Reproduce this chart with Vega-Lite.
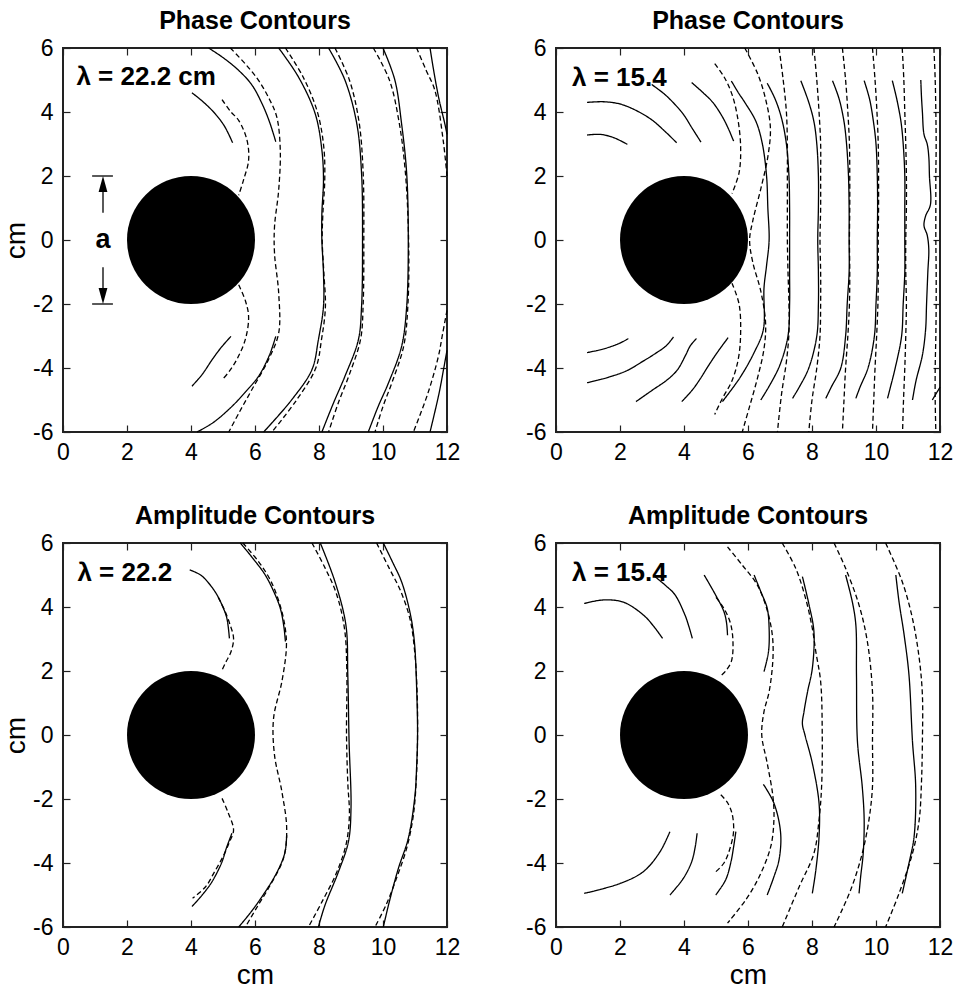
{
"$schema":"https://vega.github.io/schema/vega-lite/v6.json",
"background":"white",
"padding":{"left":1,"top":8,"right":10,"bottom":2},
"config":{
 "font":"Liberation Sans",
 "view":{"stroke":"#222","strokeWidth":2},
 "axis":{"grid":false,"domain":false,"tickSize":-7,"tickColor":"#222","tickWidth":1.2,"labelFontSize":23,"labelColor":"black","labelFont":"Liberation Sans","titleFont":"Liberation Sans","titleFontSize":28,"titleFontWeight":"normal","titleColor":"black","labelPadding":17,"labelFlush":false,"labelOverlap":false,"titlePadding":2,"labelExpr":"'' + datum.value"},
 "axisBottom":{"labelPadding":16,"titlePadding":2},
 "title":{"font":"Liberation Sans","fontSize":25,"fontWeight":"bold","anchor":"middle","frame":"group","baseline":"alphabetic","offset":3,"color":"black"},
 "line":{"interpolate":"catmull-rom","clip":true,"color":"black","strokeWidth":1.3}
},
"datasets":{
"circle":[{"x":4,"y":0}],
"labels":[{"p":1,"t":"λ = 22.2 cm","x":0.42,"y":4.85},{"p":2,"t":"λ = 15.4","x":0.5,"y":4.81},{"p":3,"t":"λ = 22.2","x":0.45,"y":4.81},{"p":4,"t":"λ = 15.4","x":0.5,"y":4.81}],
"bars":[{"x":0.91,"x2":1.56,"y":2,"y2":2},{"x":0.91,"x2":1.56,"y":-2,"y2":-2},{"x":1.25,"x2":1.25,"y":0.85,"y2":1.8},{"x":1.25,"x2":1.25,"y":-0.85,"y2":-1.8}],
"heads":[{"x":1.25,"y":1.75,"dir":"up"},{"x":1.25,"y":-1.75,"dir":"down"}],
"lines":[
{"p":1,"c":"1a","d":0,"o":0,"x":4.03,"y":4.6},{"p":1,"c":"1a","d":0,"o":1,"x":4.4,"y":4.3},{"p":1,"c":"1a","d":0,"o":2,"x":4.75,"y":3.95},{"p":1,"c":"1a","d":0,"o":3,"x":5.05,"y":3.55},{"p":1,"c":"1a","d":0,"o":4,"x":5.3,"y":3.04},
{"p":1,"c":"1b","d":0,"o":0,"x":4.03,"y":-4.57},{"p":1,"c":"1b","d":0,"o":1,"x":4.35,"y":-4.2},{"p":1,"c":"1b","d":0,"o":2,"x":4.66,"y":-3.74},{"p":1,"c":"1b","d":0,"o":3,"x":4.95,"y":-3.35},{"p":1,"c":"1b","d":0,"o":4,"x":5.25,"y":-3.01},
{"p":1,"c":"1c","d":0,"o":0,"x":4.55,"y":6},{"p":1,"c":"1c","d":0,"o":1,"x":5.0,"y":5.7},{"p":1,"c":"1c","d":0,"o":2,"x":5.49,"y":5.3},{"p":1,"c":"1c","d":0,"o":3,"x":5.9,"y":4.85},{"p":1,"c":"1c","d":0,"o":4,"x":6.22,"y":4.26},{"p":1,"c":"1c","d":0,"o":5,"x":6.45,"y":3.7},{"p":1,"c":"1c","d":0,"o":6,"x":6.65,"y":3.07},
{"p":1,"c":"1d","d":0,"o":0,"x":6.65,"y":-3.01},{"p":1,"c":"1d","d":0,"o":1,"x":6.45,"y":-3.6},{"p":1,"c":"1d","d":0,"o":2,"x":6.11,"y":-4.26},{"p":1,"c":"1d","d":0,"o":3,"x":5.7,"y":-4.75},{"p":1,"c":"1d","d":0,"o":4,"x":5.28,"y":-5.2},{"p":1,"c":"1d","d":0,"o":5,"x":4.7,"y":-5.7},{"p":1,"c":"1d","d":0,"o":6,"x":4.19,"y":-6},
{"p":1,"c":"1e","d":1,"o":0,"x":4.97,"y":4.39},{"p":1,"c":"1e","d":1,"o":1,"x":5.25,"y":4.0},{"p":1,"c":"1e","d":1,"o":2,"x":5.49,"y":3.74},{"p":1,"c":"1e","d":1,"o":3,"x":5.75,"y":3.12},{"p":1,"c":"1e","d":1,"o":4,"x":5.8,"y":2.49},{"p":1,"c":"1e","d":1,"o":5,"x":5.64,"y":1.87},{"p":1,"c":"1e","d":1,"o":6,"x":5.49,"y":1.4},
{"p":1,"c":"1f","d":1,"o":0,"x":5.49,"y":-1.4},{"p":1,"c":"1f","d":1,"o":1,"x":5.7,"y":-1.9},{"p":1,"c":"1f","d":1,"o":2,"x":5.8,"y":-2.4},{"p":1,"c":"1f","d":1,"o":3,"x":5.7,"y":-3.1},{"p":1,"c":"1f","d":1,"o":4,"x":5.45,"y":-3.7},{"p":1,"c":"1f","d":1,"o":5,"x":5.2,"y":-4.1},{"p":1,"c":"1f","d":1,"o":6,"x":4.97,"y":-4.37},
{"p":1,"c":"1g","d":1,"o":0,"x":5.23,"y":6},{"p":1,"c":"1g","d":1,"o":1,"x":5.7,"y":5.5},{"p":1,"c":"1g","d":1,"o":2,"x":6.11,"y":4.99},{"p":1,"c":"1g","d":1,"o":3,"x":6.45,"y":4.4},{"p":1,"c":"1g","d":1,"o":4,"x":6.68,"y":3.85},{"p":1,"c":"1g","d":1,"o":5,"x":6.79,"y":2.81},{"p":1,"c":"1g","d":1,"o":6,"x":6.74,"y":1.56},{"p":1,"c":"1g","d":1,"o":7,"x":6.61,"y":0.42},{"p":1,"c":"1g","d":1,"o":8,"x":6.61,"y":-0.42},{"p":1,"c":"1g","d":1,"o":9,"x":6.74,"y":-1.66},{"p":1,"c":"1g","d":1,"o":10,"x":6.74,"y":-2.91},{"p":1,"c":"1g","d":1,"o":11,"x":6.42,"y":-3.74},{"p":1,"c":"1g","d":1,"o":12,"x":5.9,"y":-4.68},{"p":1,"c":"1g","d":1,"o":13,"x":5.5,"y":-5.4},{"p":1,"c":"1g","d":1,"o":14,"x":5.18,"y":-6},
{"p":1,"c":"1h","d":0,"o":0,"x":6.74,"y":6},{"p":1,"c":"1h","d":0,"o":1,"x":7.36,"y":5.09},{"p":1,"c":"1h","d":0,"o":2,"x":7.88,"y":3.95},{"p":1,"c":"1h","d":0,"o":3,"x":8.09,"y":2.81},{"p":1,"c":"1h","d":0,"o":4,"x":8.14,"y":1.87},{"p":1,"c":"1h","d":0,"o":5,"x":8.09,"y":0.83},{"p":1,"c":"1h","d":0,"o":6,"x":8.09,"y":0},{"p":1,"c":"1h","d":0,"o":7,"x":8.14,"y":-1.04},{"p":1,"c":"1h","d":0,"o":8,"x":8.14,"y":-2.08},{"p":1,"c":"1h","d":0,"o":9,"x":7.98,"y":-3.12},{"p":1,"c":"1h","d":0,"o":10,"x":7.78,"y":-4.05},{"p":1,"c":"1h","d":0,"o":11,"x":7.15,"y":-4.99},{"p":1,"c":"1h","d":0,"o":12,"x":6.27,"y":-6},
{"p":1,"c":"1i","d":1,"o":0,"x":6.95,"y":6},{"p":1,"c":"1i","d":1,"o":1,"x":7.5,"y":5.1},{"p":1,"c":"1i","d":1,"o":2,"x":7.95,"y":4.0},{"p":1,"c":"1i","d":1,"o":3,"x":8.15,"y":2.9},{"p":1,"c":"1i","d":1,"o":4,"x":8.18,"y":1.9},{"p":1,"c":"1i","d":1,"o":5,"x":8.12,"y":0.8},{"p":1,"c":"1i","d":1,"o":6,"x":8.1,"y":0},{"p":1,"c":"1i","d":1,"o":7,"x":8.15,"y":-1.0},{"p":1,"c":"1i","d":1,"o":8,"x":8.2,"y":-2.1},{"p":1,"c":"1i","d":1,"o":9,"x":8.08,"y":-3.1},{"p":1,"c":"1i","d":1,"o":10,"x":7.9,"y":-4.0},{"p":1,"c":"1i","d":1,"o":11,"x":7.3,"y":-5.0},{"p":1,"c":"1i","d":1,"o":12,"x":6.53,"y":-6},
{"p":1,"c":"1j","d":0,"o":0,"x":8.3,"y":6},{"p":1,"c":"1j","d":0,"o":1,"x":8.81,"y":5.0},{"p":1,"c":"1j","d":0,"o":2,"x":9.18,"y":3.64},{"p":1,"c":"1j","d":0,"o":3,"x":9.33,"y":2.08},{"p":1,"c":"1j","d":0,"o":4,"x":9.36,"y":0},{"p":1,"c":"1j","d":0,"o":5,"x":9.33,"y":-2.08},{"p":1,"c":"1j","d":0,"o":6,"x":9.23,"y":-3.12},{"p":1,"c":"1j","d":0,"o":7,"x":8.81,"y":-4.26},{"p":1,"c":"1j","d":0,"o":8,"x":8.45,"y":-5.1},{"p":1,"c":"1j","d":0,"o":9,"x":8.09,"y":-6},
{"p":1,"c":"1k","d":1,"o":0,"x":8.5,"y":6},{"p":1,"c":"1k","d":1,"o":1,"x":8.95,"y":5.0},{"p":1,"c":"1k","d":1,"o":2,"x":9.25,"y":3.7},{"p":1,"c":"1k","d":1,"o":3,"x":9.38,"y":2.1},{"p":1,"c":"1k","d":1,"o":4,"x":9.4,"y":0},{"p":1,"c":"1k","d":1,"o":5,"x":9.38,"y":-2.0},{"p":1,"c":"1k","d":1,"o":6,"x":9.3,"y":-3.1},{"p":1,"c":"1k","d":1,"o":7,"x":8.95,"y":-4.2},{"p":1,"c":"1k","d":1,"o":8,"x":8.6,"y":-5.1},{"p":1,"c":"1k","d":1,"o":9,"x":8.3,"y":-6},
{"p":1,"c":"1l","d":0,"o":0,"x":10.0,"y":6},{"p":1,"c":"1l","d":0,"o":1,"x":10.37,"y":5.0},{"p":1,"c":"1l","d":0,"o":2,"x":10.58,"y":3.64},{"p":1,"c":"1l","d":0,"o":3,"x":10.74,"y":2.08},{"p":1,"c":"1l","d":0,"o":4,"x":10.79,"y":0},{"p":1,"c":"1l","d":0,"o":5,"x":10.74,"y":-2.08},{"p":1,"c":"1l","d":0,"o":6,"x":10.58,"y":-3.33},{"p":1,"c":"1l","d":0,"o":7,"x":10.17,"y":-4.47},{"p":1,"c":"1l","d":0,"o":8,"x":9.85,"y":-5.2},{"p":1,"c":"1l","d":0,"o":9,"x":9.54,"y":-6},
{"p":1,"c":"1m","d":1,"o":0,"x":9.7,"y":6},{"p":1,"c":"1m","d":1,"o":1,"x":10.2,"y":5.0},{"p":1,"c":"1m","d":1,"o":2,"x":10.5,"y":3.7},{"p":1,"c":"1m","d":1,"o":3,"x":10.7,"y":2.1},{"p":1,"c":"1m","d":1,"o":4,"x":10.8,"y":0},{"p":1,"c":"1m","d":1,"o":5,"x":10.78,"y":-2.0},{"p":1,"c":"1m","d":1,"o":6,"x":10.65,"y":-3.3},{"p":1,"c":"1m","d":1,"o":7,"x":10.3,"y":-4.4},{"p":1,"c":"1m","d":1,"o":8,"x":10.0,"y":-5.2},{"p":1,"c":"1m","d":1,"o":9,"x":9.75,"y":-6},
{"p":1,"c":"1n","d":0,"o":0,"x":11.47,"y":6},{"p":1,"c":"1n","d":0,"o":1,"x":11.6,"y":5.2},{"p":1,"c":"1n","d":0,"o":2,"x":11.75,"y":4.4},{"p":1,"c":"1n","d":0,"o":3,"x":11.93,"y":3.64},{"p":1,"c":"1n","d":0,"o":4,"x":12,"y":3.3},
{"p":1,"c":"1o","d":0,"o":0,"x":12,"y":-3.45},{"p":1,"c":"1o","d":0,"o":1,"x":11.9,"y":-4.0},{"p":1,"c":"1o","d":0,"o":2,"x":11.75,"y":-4.8},{"p":1,"c":"1o","d":0,"o":3,"x":11.47,"y":-6},
{"p":1,"c":"1p","d":1,"o":0,"x":11.05,"y":6},{"p":1,"c":"1p","d":1,"o":1,"x":11.35,"y":5.3},{"p":1,"c":"1p","d":1,"o":2,"x":11.62,"y":4.68},{"p":1,"c":"1p","d":1,"o":3,"x":11.88,"y":3.12},{"p":1,"c":"1p","d":1,"o":4,"x":12,"y":2.0},
{"p":1,"c":"1q","d":1,"o":0,"x":12,"y":-2.2},{"p":1,"c":"1q","d":1,"o":1,"x":11.85,"y":-3.0},{"p":1,"c":"1q","d":1,"o":2,"x":11.73,"y":-3.64},{"p":1,"c":"1q","d":1,"o":3,"x":11.4,"y":-4.8},{"p":1,"c":"1q","d":1,"o":4,"x":10.95,"y":-6},

{"p":2,"c":"2a","d":0,"o":0,"x":0.97,"y":4.3},{"p":2,"c":"2a","d":0,"o":1,"x":1.5,"y":4.32},{"p":2,"c":"2a","d":0,"o":2,"x":2.0,"y":4.25},{"p":2,"c":"2a","d":0,"o":3,"x":2.5,"y":4.05},{"p":2,"c":"2a","d":0,"o":4,"x":3.0,"y":3.75},{"p":2,"c":"2a","d":0,"o":5,"x":3.4,"y":3.4},{"p":2,"c":"2a","d":0,"o":6,"x":3.77,"y":3.04},
{"p":2,"c":"2b","d":0,"o":0,"x":0.97,"y":3.28},{"p":2,"c":"2b","d":0,"o":1,"x":1.4,"y":3.3},{"p":2,"c":"2b","d":0,"o":2,"x":1.8,"y":3.2},{"p":2,"c":"2b","d":0,"o":3,"x":2.23,"y":2.99},
{"p":2,"c":"2c","d":0,"o":0,"x":2.99,"y":4.86},{"p":2,"c":"2c","d":0,"o":1,"x":3.4,"y":4.55},{"p":2,"c":"2c","d":0,"o":2,"x":3.75,"y":4.2},{"p":2,"c":"2c","d":0,"o":3,"x":4.0,"y":3.9},{"p":2,"c":"2c","d":0,"o":4,"x":4.25,"y":3.5},{"p":2,"c":"2c","d":0,"o":5,"x":4.53,"y":3.06},
{"p":2,"c":"2d","d":0,"o":0,"x":4.24,"y":4.92},{"p":2,"c":"2d","d":0,"o":1,"x":4.6,"y":4.6},{"p":2,"c":"2d","d":0,"o":2,"x":4.9,"y":4.3},{"p":2,"c":"2d","d":0,"o":3,"x":5.2,"y":3.85},{"p":2,"c":"2d","d":0,"o":4,"x":5.4,"y":3.45},{"p":2,"c":"2d","d":0,"o":5,"x":5.55,"y":3.09},
{"p":2,"c":"2e","d":0,"o":0,"x":0.97,"y":-3.52},{"p":2,"c":"2e","d":0,"o":1,"x":1.5,"y":-3.4},{"p":2,"c":"2e","d":0,"o":2,"x":2.0,"y":-3.22},{"p":2,"c":"2e","d":0,"o":3,"x":2.26,"y":-3.08},
{"p":2,"c":"2f","d":0,"o":0,"x":0.97,"y":-4.46},{"p":2,"c":"2f","d":0,"o":1,"x":1.6,"y":-4.3},{"p":2,"c":"2f","d":0,"o":2,"x":2.2,"y":-4.09},{"p":2,"c":"2f","d":0,"o":3,"x":2.7,"y":-3.8},{"p":2,"c":"2f","d":0,"o":4,"x":3.1,"y":-3.55},{"p":2,"c":"2f","d":0,"o":5,"x":3.45,"y":-3.3},{"p":2,"c":"2f","d":0,"o":6,"x":3.67,"y":-3.03},
{"p":2,"c":"2g","d":0,"o":0,"x":2.5,"y":-5.05},{"p":2,"c":"2g","d":0,"o":1,"x":3.0,"y":-4.7},{"p":2,"c":"2g","d":0,"o":2,"x":3.5,"y":-4.35},{"p":2,"c":"2g","d":0,"o":3,"x":3.8,"y":-4.05},{"p":2,"c":"2g","d":0,"o":4,"x":4.05,"y":-3.6},{"p":2,"c":"2g","d":0,"o":5,"x":4.2,"y":-3.3},{"p":2,"c":"2g","d":0,"o":6,"x":4.39,"y":-3.08},
{"p":2,"c":"2h","d":0,"o":0,"x":3.93,"y":-5.05},{"p":2,"c":"2h","d":0,"o":1,"x":4.25,"y":-4.7},{"p":2,"c":"2h","d":0,"o":2,"x":4.5,"y":-4.35},{"p":2,"c":"2h","d":0,"o":3,"x":4.75,"y":-3.95},{"p":2,"c":"2h","d":0,"o":4,"x":5.05,"y":-3.5},{"p":2,"c":"2h","d":0,"o":5,"x":5.38,"y":-3.05},
{"p":2,"c":"2i","d":1,"o":0,"x":4.96,"y":5.51},{"p":2,"c":"2i","d":1,"o":1,"x":5.25,"y":5.1},{"p":2,"c":"2i","d":1,"o":2,"x":5.5,"y":4.55},{"p":2,"c":"2i","d":1,"o":3,"x":5.68,"y":3.8},{"p":2,"c":"2i","d":1,"o":4,"x":5.77,"y":2.9},{"p":2,"c":"2i","d":1,"o":5,"x":5.72,"y":2.1},{"p":2,"c":"2i","d":1,"o":6,"x":5.5,"y":1.45},
{"p":2,"c":"2j","d":1,"o":0,"x":5.5,"y":-1.35},{"p":2,"c":"2j","d":1,"o":1,"x":5.72,"y":-2.0},{"p":2,"c":"2j","d":1,"o":2,"x":5.77,"y":-2.9},{"p":2,"c":"2j","d":1,"o":3,"x":5.7,"y":-3.7},{"p":2,"c":"2j","d":1,"o":4,"x":5.5,"y":-4.4},{"p":2,"c":"2j","d":1,"o":5,"x":5.2,"y":-4.95},{"p":2,"c":"2j","d":1,"o":6,"x":4.96,"y":-5.45},
{"p":2,"c":"2k","d":0,"o":0,"x":5.48,"y":4.97},{"p":2,"c":"2k","d":0,"o":1,"x":5.7,"y":4.6},{"p":2,"c":"2k","d":0,"o":2,"x":5.9,"y":4.3},{"p":2,"c":"2k","d":0,"o":3,"x":6.25,"y":3.7},{"p":2,"c":"2k","d":0,"o":4,"x":6.45,"y":3.0},{"p":2,"c":"2k","d":0,"o":5,"x":6.58,"y":2.0},{"p":2,"c":"2k","d":0,"o":6,"x":6.62,"y":1.0},{"p":2,"c":"2k","d":0,"o":7,"x":6.66,"y":0},{"p":2,"c":"2k","d":0,"o":8,"x":6.58,"y":-0.8},{"p":2,"c":"2k","d":0,"o":9,"x":6.5,"y":-1.5},{"p":2,"c":"2k","d":0,"o":10,"x":6.48,"y":-2.8},{"p":2,"c":"2k","d":0,"o":11,"x":6.2,"y":-3.5},{"p":2,"c":"2k","d":0,"o":12,"x":5.75,"y":-4.3},{"p":2,"c":"2k","d":0,"o":13,"x":5.2,"y":-5.05},
{"p":2,"c":"2l","d":1,"o":0,"x":5.9,"y":6},{"p":2,"c":"2l","d":1,"o":1,"x":6.3,"y":5.2},{"p":2,"c":"2l","d":1,"o":2,"x":6.55,"y":4.4},{"p":2,"c":"2l","d":1,"o":3,"x":6.7,"y":3.5},{"p":2,"c":"2l","d":1,"o":4,"x":6.62,"y":2.6},{"p":2,"c":"2l","d":1,"o":5,"x":6.4,"y":1.6},{"p":2,"c":"2l","d":1,"o":6,"x":6.15,"y":0.6},{"p":2,"c":"2l","d":1,"o":7,"x":6.05,"y":0},{"p":2,"c":"2l","d":1,"o":8,"x":6.15,"y":-0.7},{"p":2,"c":"2l","d":1,"o":9,"x":6.4,"y":-1.6},{"p":2,"c":"2l","d":1,"o":10,"x":6.55,"y":-2.6},{"p":2,"c":"2l","d":1,"o":11,"x":6.5,"y":-3.4},{"p":2,"c":"2l","d":1,"o":12,"x":6.3,"y":-4.3},{"p":2,"c":"2l","d":1,"o":13,"x":6.05,"y":-5.2},{"p":2,"c":"2l","d":1,"o":14,"x":5.82,"y":-6},
{"p":2,"c":"2m","d":0,"o":0,"x":6.6,"y":4.9},{"p":2,"c":"2m","d":0,"o":1,"x":6.85,"y":4.4},{"p":2,"c":"2m","d":0,"o":2,"x":7.05,"y":3.8},{"p":2,"c":"2m","d":0,"o":3,"x":7.2,"y":3.0},{"p":2,"c":"2m","d":0,"o":4,"x":7.28,"y":2.0},{"p":2,"c":"2m","d":0,"o":5,"x":7.3,"y":1.0},{"p":2,"c":"2m","d":0,"o":6,"x":7.3,"y":0},{"p":2,"c":"2m","d":0,"o":7,"x":7.3,"y":-1.0},{"p":2,"c":"2m","d":0,"o":8,"x":7.3,"y":-2.0},{"p":2,"c":"2m","d":0,"o":9,"x":7.25,"y":-3.0},{"p":2,"c":"2m","d":0,"o":10,"x":7.0,"y":-3.9},{"p":2,"c":"2m","d":0,"o":11,"x":6.7,"y":-4.5},{"p":2,"c":"2m","d":0,"o":12,"x":6.4,"y":-5.0},
{"p":2,"c":"2n","d":1,"o":0,"x":6.97,"y":6},{"p":2,"c":"2n","d":1,"o":1,"x":7.1,"y":5.0},{"p":2,"c":"2n","d":1,"o":2,"x":7.2,"y":4.0},{"p":2,"c":"2n","d":1,"o":3,"x":7.23,"y":3.0},{"p":2,"c":"2n","d":1,"o":4,"x":7.23,"y":2.0},{"p":2,"c":"2n","d":1,"o":5,"x":7.23,"y":1.0},{"p":2,"c":"2n","d":1,"o":6,"x":7.23,"y":0},{"p":2,"c":"2n","d":1,"o":7,"x":7.25,"y":-1.0},{"p":2,"c":"2n","d":1,"o":8,"x":7.28,"y":-2.0},{"p":2,"c":"2n","d":1,"o":9,"x":7.28,"y":-2.9},{"p":2,"c":"2n","d":1,"o":10,"x":7.2,"y":-3.8},{"p":2,"c":"2n","d":1,"o":11,"x":7.05,"y":-4.8},{"p":2,"c":"2n","d":1,"o":12,"x":6.92,"y":-6},
{"p":2,"c":"2o","d":0,"o":0,"x":7.65,"y":4.98},{"p":2,"c":"2o","d":0,"o":1,"x":7.9,"y":4.3},{"p":2,"c":"2o","d":0,"o":2,"x":8.06,"y":3.7},{"p":2,"c":"2o","d":0,"o":3,"x":8.15,"y":3.0},{"p":2,"c":"2o","d":0,"o":4,"x":8.2,"y":2.0},{"p":2,"c":"2o","d":0,"o":5,"x":8.2,"y":1.0},{"p":2,"c":"2o","d":0,"o":6,"x":8.18,"y":0},{"p":2,"c":"2o","d":0,"o":7,"x":8.2,"y":-1.0},{"p":2,"c":"2o","d":0,"o":8,"x":8.2,"y":-2.0},{"p":2,"c":"2o","d":0,"o":9,"x":8.15,"y":-3.0},{"p":2,"c":"2o","d":0,"o":10,"x":7.9,"y":-4.0},{"p":2,"c":"2o","d":0,"o":11,"x":7.6,"y":-4.6},{"p":2,"c":"2o","d":0,"o":12,"x":7.39,"y":-4.95},
{"p":2,"c":"2p","d":1,"o":0,"x":8.06,"y":6},{"p":2,"c":"2p","d":1,"o":1,"x":8.15,"y":5.0},{"p":2,"c":"2p","d":1,"o":2,"x":8.22,"y":4.0},{"p":2,"c":"2p","d":1,"o":3,"x":8.27,"y":3.0},{"p":2,"c":"2p","d":1,"o":4,"x":8.27,"y":2.0},{"p":2,"c":"2p","d":1,"o":5,"x":8.27,"y":1.0},{"p":2,"c":"2p","d":1,"o":6,"x":8.25,"y":0},{"p":2,"c":"2p","d":1,"o":7,"x":8.27,"y":-1.0},{"p":2,"c":"2p","d":1,"o":8,"x":8.27,"y":-2.0},{"p":2,"c":"2p","d":1,"o":9,"x":8.25,"y":-3.0},{"p":2,"c":"2p","d":1,"o":10,"x":8.15,"y":-4.0},{"p":2,"c":"2p","d":1,"o":11,"x":8.0,"y":-5.0},{"p":2,"c":"2p","d":1,"o":12,"x":7.9,"y":-6},
{"p":2,"c":"2q","d":0,"o":0,"x":8.64,"y":4.98},{"p":2,"c":"2q","d":0,"o":1,"x":8.85,"y":4.4},{"p":2,"c":"2q","d":0,"o":2,"x":9.0,"y":3.7},{"p":2,"c":"2q","d":0,"o":3,"x":9.08,"y":3.0},{"p":2,"c":"2q","d":0,"o":4,"x":9.14,"y":2.0},{"p":2,"c":"2q","d":0,"o":5,"x":9.16,"y":1.0},{"p":2,"c":"2q","d":0,"o":6,"x":9.16,"y":0},{"p":2,"c":"2q","d":0,"o":7,"x":9.16,"y":-1.0},{"p":2,"c":"2q","d":0,"o":8,"x":9.1,"y":-2.0},{"p":2,"c":"2q","d":0,"o":9,"x":9.05,"y":-3.0},{"p":2,"c":"2q","d":0,"o":10,"x":8.9,"y":-4.0},{"p":2,"c":"2q","d":0,"o":11,"x":8.6,"y":-4.6},{"p":2,"c":"2q","d":0,"o":12,"x":8.43,"y":-4.95},
{"p":2,"c":"2r","d":1,"o":0,"x":8.95,"y":6},{"p":2,"c":"2r","d":1,"o":1,"x":9.05,"y":5.0},{"p":2,"c":"2r","d":1,"o":2,"x":9.12,"y":4.0},{"p":2,"c":"2r","d":1,"o":3,"x":9.17,"y":3.0},{"p":2,"c":"2r","d":1,"o":4,"x":9.18,"y":2.0},{"p":2,"c":"2r","d":1,"o":5,"x":9.18,"y":1.0},{"p":2,"c":"2r","d":1,"o":6,"x":9.17,"y":0},{"p":2,"c":"2r","d":1,"o":7,"x":9.18,"y":-1.0},{"p":2,"c":"2r","d":1,"o":8,"x":9.17,"y":-2.0},{"p":2,"c":"2r","d":1,"o":9,"x":9.12,"y":-3.0},{"p":2,"c":"2r","d":1,"o":10,"x":9.05,"y":-4.0},{"p":2,"c":"2r","d":1,"o":11,"x":9.0,"y":-5.0},{"p":2,"c":"2r","d":1,"o":12,"x":8.95,"y":-6},
{"p":2,"c":"2s","d":0,"o":0,"x":9.63,"y":4.98},{"p":2,"c":"2s","d":0,"o":1,"x":9.8,"y":4.4},{"p":2,"c":"2s","d":0,"o":2,"x":9.92,"y":3.7},{"p":2,"c":"2s","d":0,"o":3,"x":10.0,"y":3.0},{"p":2,"c":"2s","d":0,"o":4,"x":10.04,"y":2.0},{"p":2,"c":"2s","d":0,"o":5,"x":10.05,"y":1.0},{"p":2,"c":"2s","d":0,"o":6,"x":10.04,"y":0},{"p":2,"c":"2s","d":0,"o":7,"x":10.04,"y":-1.0},{"p":2,"c":"2s","d":0,"o":8,"x":10.0,"y":-2.0},{"p":2,"c":"2s","d":0,"o":9,"x":9.95,"y":-3.0},{"p":2,"c":"2s","d":0,"o":10,"x":9.75,"y":-4.0},{"p":2,"c":"2s","d":0,"o":11,"x":9.5,"y":-4.6},{"p":2,"c":"2s","d":0,"o":12,"x":9.37,"y":-4.95},
{"p":2,"c":"2t","d":1,"o":0,"x":9.89,"y":6},{"p":2,"c":"2t","d":1,"o":1,"x":9.97,"y":5.0},{"p":2,"c":"2t","d":1,"o":2,"x":10.03,"y":4.0},{"p":2,"c":"2t","d":1,"o":3,"x":10.07,"y":3.0},{"p":2,"c":"2t","d":1,"o":4,"x":10.08,"y":2.0},{"p":2,"c":"2t","d":1,"o":5,"x":10.08,"y":1.0},{"p":2,"c":"2t","d":1,"o":6,"x":10.07,"y":0},{"p":2,"c":"2t","d":1,"o":7,"x":10.07,"y":-1.0},{"p":2,"c":"2t","d":1,"o":8,"x":10.06,"y":-2.0},{"p":2,"c":"2t","d":1,"o":9,"x":10.02,"y":-3.0},{"p":2,"c":"2t","d":1,"o":10,"x":9.97,"y":-4.0},{"p":2,"c":"2t","d":1,"o":11,"x":9.93,"y":-5.0},{"p":2,"c":"2t","d":1,"o":12,"x":9.89,"y":-6},
{"p":2,"c":"2u","d":0,"o":0,"x":10.51,"y":4.98},{"p":2,"c":"2u","d":0,"o":1,"x":10.65,"y":4.4},{"p":2,"c":"2u","d":0,"o":2,"x":10.78,"y":3.7},{"p":2,"c":"2u","d":0,"o":3,"x":10.85,"y":3.0},{"p":2,"c":"2u","d":0,"o":4,"x":10.9,"y":2.0},{"p":2,"c":"2u","d":0,"o":5,"x":10.9,"y":1.0},{"p":2,"c":"2u","d":0,"o":6,"x":10.9,"y":0},{"p":2,"c":"2u","d":0,"o":7,"x":10.9,"y":-1.0},{"p":2,"c":"2u","d":0,"o":8,"x":10.85,"y":-2.0},{"p":2,"c":"2u","d":0,"o":9,"x":10.8,"y":-3.0},{"p":2,"c":"2u","d":0,"o":10,"x":10.6,"y":-4.0},{"p":2,"c":"2u","d":0,"o":11,"x":10.45,"y":-4.6},{"p":2,"c":"2u","d":0,"o":12,"x":10.36,"y":-4.95},
{"p":2,"c":"2v","d":1,"o":0,"x":10.82,"y":6},{"p":2,"c":"2v","d":1,"o":1,"x":10.87,"y":5.0},{"p":2,"c":"2v","d":1,"o":2,"x":10.9,"y":4.0},{"p":2,"c":"2v","d":1,"o":3,"x":10.93,"y":3.0},{"p":2,"c":"2v","d":1,"o":4,"x":10.95,"y":2.0},{"p":2,"c":"2v","d":1,"o":5,"x":10.95,"y":1.0},{"p":2,"c":"2v","d":1,"o":6,"x":10.93,"y":0},{"p":2,"c":"2v","d":1,"o":7,"x":10.93,"y":-1.0},{"p":2,"c":"2v","d":1,"o":8,"x":10.95,"y":-2.0},{"p":2,"c":"2v","d":1,"o":9,"x":10.93,"y":-3.0},{"p":2,"c":"2v","d":1,"o":10,"x":10.9,"y":-4.0},{"p":2,"c":"2v","d":1,"o":11,"x":10.86,"y":-5.0},{"p":2,"c":"2v","d":1,"o":12,"x":10.83,"y":-6},
{"p":2,"c":"2w","d":0,"o":0,"x":11.4,"y":5.0},{"p":2,"c":"2w","d":0,"o":1,"x":11.42,"y":4.5},{"p":2,"c":"2w","d":0,"o":2,"x":11.45,"y":4.0},{"p":2,"c":"2w","d":0,"o":3,"x":11.5,"y":3.3},{"p":2,"c":"2w","d":0,"o":4,"x":11.6,"y":3.0},{"p":2,"c":"2w","d":0,"o":5,"x":11.65,"y":2.6},{"p":2,"c":"2w","d":0,"o":6,"x":11.67,"y":2.0},{"p":2,"c":"2w","d":0,"o":7,"x":11.7,"y":1.1},{"p":2,"c":"2w","d":0,"o":8,"x":11.55,"y":0.75},{"p":2,"c":"2w","d":0,"o":9,"x":11.5,"y":0.45},{"p":2,"c":"2w","d":0,"o":10,"x":11.6,"y":0.15},{"p":2,"c":"2w","d":0,"o":11,"x":11.65,"y":-0.3},{"p":2,"c":"2w","d":0,"o":12,"x":11.62,"y":-1.0},{"p":2,"c":"2w","d":0,"o":13,"x":11.58,"y":-2.0},{"p":2,"c":"2w","d":0,"o":14,"x":11.55,"y":-2.8},{"p":2,"c":"2w","d":0,"o":15,"x":11.45,"y":-3.6},{"p":2,"c":"2w","d":0,"o":16,"x":11.25,"y":-4.4},{"p":2,"c":"2w","d":0,"o":17,"x":11.14,"y":-5.0},
{"p":2,"c":"2x","d":1,"o":0,"x":11.81,"y":6},{"p":2,"c":"2x","d":1,"o":1,"x":11.85,"y":5.0},{"p":2,"c":"2x","d":1,"o":2,"x":11.87,"y":4.0},{"p":2,"c":"2x","d":1,"o":3,"x":11.88,"y":3.0},{"p":2,"c":"2x","d":1,"o":4,"x":11.87,"y":2.0},{"p":2,"c":"2x","d":1,"o":5,"x":11.87,"y":1.0},{"p":2,"c":"2x","d":1,"o":6,"x":11.87,"y":0},{"p":2,"c":"2x","d":1,"o":7,"x":11.88,"y":-1.0},{"p":2,"c":"2x","d":1,"o":8,"x":11.88,"y":-2.0},{"p":2,"c":"2x","d":1,"o":9,"x":11.87,"y":-3.0},{"p":2,"c":"2x","d":1,"o":10,"x":11.85,"y":-4.0},{"p":2,"c":"2x","d":1,"o":11,"x":11.85,"y":-5.0},{"p":2,"c":"2x","d":1,"o":12,"x":11.87,"y":-6},
{"p":2,"c":"2y","d":0,"o":0,"x":11.76,"y":-5.0},{"p":2,"c":"2y","d":0,"o":1,"x":12,"y":-4.6},

{"p":3,"c":"3a","d":0,"o":0,"x":3.96,"y":5.16},{"p":3,"c":"3a","d":0,"o":1,"x":4.3,"y":5.0},{"p":3,"c":"3a","d":0,"o":2,"x":4.55,"y":4.75},{"p":3,"c":"3a","d":0,"o":3,"x":4.8,"y":4.4},{"p":3,"c":"3a","d":0,"o":4,"x":4.97,"y":4.06},{"p":3,"c":"3a","d":0,"o":5,"x":5.12,"y":3.65},{"p":3,"c":"3a","d":0,"o":6,"x":5.2,"y":3.02},
{"p":3,"c":"3b","d":1,"o":0,"x":4.85,"y":4.3},{"p":3,"c":"3b","d":1,"o":1,"x":5.05,"y":3.9},{"p":3,"c":"3b","d":1,"o":2,"x":5.22,"y":3.45},{"p":3,"c":"3b","d":1,"o":3,"x":5.33,"y":3.02},{"p":3,"c":"3b","d":1,"o":4,"x":5.25,"y":2.6},{"p":3,"c":"3b","d":1,"o":5,"x":5.1,"y":2.3},{"p":3,"c":"3b","d":1,"o":6,"x":4.97,"y":2.03},
{"p":3,"c":"3c","d":0,"o":0,"x":5.28,"y":-3.07},{"p":3,"c":"3c","d":0,"o":1,"x":5.1,"y":-3.55},{"p":3,"c":"3c","d":0,"o":2,"x":4.97,"y":-3.96},{"p":3,"c":"3c","d":0,"o":3,"x":4.66,"y":-4.58},{"p":3,"c":"3c","d":0,"o":4,"x":4.35,"y":-5.0},{"p":3,"c":"3c","d":0,"o":5,"x":4.03,"y":-5.36},
{"p":3,"c":"3d","d":1,"o":0,"x":4.97,"y":-1.98},{"p":3,"c":"3d","d":1,"o":1,"x":5.15,"y":-2.4},{"p":3,"c":"3d","d":1,"o":2,"x":5.33,"y":-2.97},{"p":3,"c":"3d","d":1,"o":3,"x":5.2,"y":-3.35},{"p":3,"c":"3d","d":1,"o":4,"x":5.0,"y":-3.8},{"p":3,"c":"3d","d":1,"o":5,"x":4.75,"y":-4.25},{"p":3,"c":"3d","d":1,"o":6,"x":4.45,"y":-4.75},{"p":3,"c":"3d","d":1,"o":7,"x":4.05,"y":-5.1},
{"p":3,"c":"3e","d":0,"o":0,"x":5.54,"y":6},{"p":3,"c":"3e","d":0,"o":1,"x":5.95,"y":5.5},{"p":3,"c":"3e","d":0,"o":2,"x":6.32,"y":5.0},{"p":3,"c":"3e","d":0,"o":3,"x":6.6,"y":4.45},{"p":3,"c":"3e","d":0,"o":4,"x":6.79,"y":3.96},{"p":3,"c":"3e","d":0,"o":5,"x":6.9,"y":3.4},{"p":3,"c":"3e","d":0,"o":6,"x":6.95,"y":2.92},
{"p":3,"c":"3f","d":0,"o":0,"x":6.99,"y":-3.13},{"p":3,"c":"3f","d":0,"o":1,"x":6.95,"y":-3.6},{"p":3,"c":"3f","d":0,"o":2,"x":6.84,"y":-3.96},{"p":3,"c":"3f","d":0,"o":3,"x":6.6,"y":-4.45},{"p":3,"c":"3f","d":0,"o":4,"x":6.32,"y":-4.9},{"p":3,"c":"3f","d":0,"o":5,"x":5.9,"y":-5.5},{"p":3,"c":"3f","d":0,"o":6,"x":5.49,"y":-6},
{"p":3,"c":"3g","d":1,"o":0,"x":5.62,"y":6},{"p":3,"c":"3g","d":1,"o":1,"x":6.11,"y":5.42},{"p":3,"c":"3g","d":1,"o":2,"x":6.5,"y":4.8},{"p":3,"c":"3g","d":1,"o":3,"x":6.8,"y":4.0},{"p":3,"c":"3g","d":1,"o":4,"x":6.95,"y":3.3},{"p":3,"c":"3g","d":1,"o":5,"x":6.98,"y":2.71},{"p":3,"c":"3g","d":1,"o":6,"x":6.84,"y":1.67},{"p":3,"c":"3g","d":1,"o":7,"x":6.58,"y":0.52},{"p":3,"c":"3g","d":1,"o":8,"x":6.61,"y":-0.63},{"p":3,"c":"3g","d":1,"o":9,"x":6.84,"y":-1.77},{"p":3,"c":"3g","d":1,"o":10,"x":6.99,"y":-2.92},{"p":3,"c":"3g","d":1,"o":11,"x":6.89,"y":-3.85},{"p":3,"c":"3g","d":1,"o":12,"x":6.42,"y":-4.79},{"p":3,"c":"3g","d":1,"o":13,"x":6.05,"y":-5.4},{"p":3,"c":"3g","d":1,"o":14,"x":5.7,"y":-6},
{"p":3,"c":"3h","d":0,"o":0,"x":8.04,"y":6},{"p":3,"c":"3h","d":0,"o":1,"x":8.5,"y":4.79},{"p":3,"c":"3h","d":0,"o":2,"x":8.84,"y":3.44},{"p":3,"c":"3h","d":0,"o":3,"x":8.9,"y":1.88},{"p":3,"c":"3h","d":0,"o":4,"x":8.94,"y":-0.2},{"p":3,"c":"3h","d":0,"o":5,"x":9.0,"y":-2.29},{"p":3,"c":"3h","d":0,"o":6,"x":8.92,"y":-3.33},{"p":3,"c":"3h","d":0,"o":7,"x":8.61,"y":-4.27},{"p":3,"c":"3h","d":0,"o":8,"x":8.19,"y":-5.31},{"p":3,"c":"3h","d":0,"o":9,"x":7.98,"y":-6},
{"p":3,"c":"3i","d":1,"o":0,"x":7.78,"y":6},{"p":3,"c":"3i","d":1,"o":1,"x":8.2,"y":5.2},{"p":3,"c":"3i","d":1,"o":2,"x":8.55,"y":4.4},{"p":3,"c":"3i","d":1,"o":3,"x":8.8,"y":3.3},{"p":3,"c":"3i","d":1,"o":4,"x":8.87,"y":2.0},{"p":3,"c":"3i","d":1,"o":5,"x":8.86,"y":0},{"p":3,"c":"3i","d":1,"o":6,"x":8.9,"y":-1.5},{"p":3,"c":"3i","d":1,"o":7,"x":8.95,"y":-2.5},{"p":3,"c":"3i","d":1,"o":8,"x":8.85,"y":-3.4},{"p":3,"c":"3i","d":1,"o":9,"x":8.55,"y":-4.3},{"p":3,"c":"3i","d":1,"o":10,"x":8.1,"y":-5.2},{"p":3,"c":"3i","d":1,"o":11,"x":7.67,"y":-6},
{"p":3,"c":"3j","d":0,"o":0,"x":10.01,"y":6},{"p":3,"c":"3j","d":0,"o":1,"x":10.3,"y":5.4},{"p":3,"c":"3j","d":0,"o":2,"x":10.58,"y":4.79},{"p":3,"c":"3j","d":0,"o":3,"x":10.85,"y":3.8},{"p":3,"c":"3j","d":0,"o":4,"x":10.98,"y":2.92},{"p":3,"c":"3j","d":0,"o":5,"x":11.05,"y":1.5},{"p":3,"c":"3j","d":0,"o":6,"x":11.08,"y":0},{"p":3,"c":"3j","d":0,"o":7,"x":11.05,"y":-1.0},{"p":3,"c":"3j","d":0,"o":8,"x":11.0,"y":-1.88},{"p":3,"c":"3j","d":0,"o":9,"x":10.79,"y":-3.23},{"p":3,"c":"3j","d":0,"o":10,"x":10.48,"y":-4.17},{"p":3,"c":"3j","d":0,"o":11,"x":10.2,"y":-5.2},{"p":3,"c":"3j","d":0,"o":12,"x":10.01,"y":-6},
{"p":3,"c":"3k","d":1,"o":0,"x":9.8,"y":6},{"p":3,"c":"3k","d":1,"o":1,"x":10.2,"y":5.2},{"p":3,"c":"3k","d":1,"o":2,"x":10.55,"y":4.5},{"p":3,"c":"3k","d":1,"o":3,"x":10.85,"y":3.6},{"p":3,"c":"3k","d":1,"o":4,"x":11.0,"y":2.5},{"p":3,"c":"3k","d":1,"o":5,"x":11.07,"y":1.2},{"p":3,"c":"3k","d":1,"o":6,"x":11.08,"y":0},{"p":3,"c":"3k","d":1,"o":7,"x":11.05,"y":-1.2},{"p":3,"c":"3k","d":1,"o":8,"x":10.95,"y":-2.5},{"p":3,"c":"3k","d":1,"o":9,"x":10.75,"y":-3.5},{"p":3,"c":"3k","d":1,"o":10,"x":10.45,"y":-4.4},{"p":3,"c":"3k","d":1,"o":11,"x":10.1,"y":-5.3},{"p":3,"c":"3k","d":1,"o":12,"x":9.75,"y":-6},

{"p":4,"c":"4a","d":0,"o":0,"x":0.88,"y":4.11},{"p":4,"c":"4a","d":0,"o":1,"x":1.48,"y":4.22},{"p":4,"c":"4a","d":0,"o":2,"x":2.11,"y":4.15},{"p":4,"c":"4a","d":0,"o":3,"x":2.73,"y":3.75},{"p":4,"c":"4a","d":0,"o":4,"x":3.05,"y":3.4},{"p":4,"c":"4a","d":0,"o":5,"x":3.33,"y":3.02},
{"p":4,"c":"4b","d":0,"o":0,"x":3.09,"y":4.95},{"p":4,"c":"4b","d":0,"o":1,"x":3.45,"y":4.65},{"p":4,"c":"4b","d":0,"o":2,"x":3.72,"y":4.38},{"p":4,"c":"4b","d":0,"o":3,"x":4.03,"y":3.75},{"p":4,"c":"4b","d":0,"o":4,"x":4.15,"y":3.4},{"p":4,"c":"4b","d":0,"o":5,"x":4.26,"y":3.02},
{"p":4,"c":"4c","d":0,"o":0,"x":4.63,"y":5.0},{"p":4,"c":"4c","d":0,"o":1,"x":4.99,"y":4.37},{"p":4,"c":"4c","d":0,"o":2,"x":5.25,"y":3.85},{"p":4,"c":"4c","d":0,"o":3,"x":5.33,"y":3.5},{"p":4,"c":"4c","d":0,"o":4,"x":5.36,"y":3.12},
{"p":4,"c":"4d","d":1,"o":0,"x":5.0,"y":4.3},{"p":4,"c":"4d","d":1,"o":1,"x":5.25,"y":3.95},{"p":4,"c":"4d","d":1,"o":2,"x":5.45,"y":3.5},{"p":4,"c":"4d","d":1,"o":3,"x":5.53,"y":2.92},{"p":4,"c":"4d","d":1,"o":4,"x":5.48,"y":2.3},{"p":4,"c":"4d","d":1,"o":5,"x":5.3,"y":2.0},{"p":4,"c":"4d","d":1,"o":6,"x":5.15,"y":1.85},
{"p":4,"c":"4e","d":1,"o":0,"x":5.15,"y":-1.87},{"p":4,"c":"4e","d":1,"o":1,"x":5.35,"y":-2.1},{"p":4,"c":"4e","d":1,"o":2,"x":5.5,"y":-2.45},{"p":4,"c":"4e","d":1,"o":3,"x":5.55,"y":-3.0},{"p":4,"c":"4e","d":1,"o":4,"x":5.45,"y":-3.5},{"p":4,"c":"4e","d":1,"o":5,"x":5.25,"y":-4.0},{"p":4,"c":"4e","d":1,"o":6,"x":4.94,"y":-4.32},
{"p":4,"c":"4f","d":0,"o":0,"x":5.62,"y":-3.02},{"p":4,"c":"4f","d":0,"o":1,"x":5.55,"y":-3.5},{"p":4,"c":"4f","d":0,"o":2,"x":5.46,"y":-4.0},{"p":4,"c":"4f","d":0,"o":3,"x":5.3,"y":-4.53},{"p":4,"c":"4f","d":0,"o":4,"x":4.99,"y":-5.0},
{"p":4,"c":"4g","d":0,"o":0,"x":0.88,"y":-4.95},{"p":4,"c":"4g","d":0,"o":1,"x":2.0,"y":-4.64},{"p":4,"c":"4g","d":0,"o":2,"x":2.73,"y":-4.27},{"p":4,"c":"4g","d":0,"o":3,"x":3.25,"y":-3.65},{"p":4,"c":"4g","d":0,"o":4,"x":3.56,"y":-3.02},
{"p":4,"c":"4h","d":0,"o":0,"x":3.56,"y":-5.0},{"p":4,"c":"4h","d":0,"o":1,"x":3.98,"y":-4.48},{"p":4,"c":"4h","d":0,"o":2,"x":4.24,"y":-3.96},{"p":4,"c":"4h","d":0,"o":3,"x":4.35,"y":-3.5},{"p":4,"c":"4h","d":0,"o":4,"x":4.41,"y":-3.07},
{"p":4,"c":"4i","d":0,"o":0,"x":6.19,"y":5.0},{"p":4,"c":"4i","d":0,"o":1,"x":6.4,"y":4.48},{"p":4,"c":"4i","d":0,"o":2,"x":6.6,"y":3.96},{"p":4,"c":"4i","d":0,"o":3,"x":6.66,"y":3.33},{"p":4,"c":"4i","d":0,"o":4,"x":6.64,"y":2.6},{"p":4,"c":"4i","d":0,"o":5,"x":6.5,"y":1.98},
{"p":4,"c":"4j","d":1,"o":0,"x":5.36,"y":5.88},{"p":4,"c":"4j","d":1,"o":1,"x":5.82,"y":5.31},{"p":4,"c":"4j","d":1,"o":2,"x":6.29,"y":4.69},{"p":4,"c":"4j","d":1,"o":3,"x":6.6,"y":3.9},{"p":4,"c":"4j","d":1,"o":4,"x":6.76,"y":3.12},{"p":4,"c":"4j","d":1,"o":5,"x":6.78,"y":2.4},{"p":4,"c":"4j","d":1,"o":6,"x":6.66,"y":1.35},{"p":4,"c":"4j","d":1,"o":7,"x":6.5,"y":0.73},{"p":4,"c":"4j","d":1,"o":8,"x":6.43,"y":0},{"p":4,"c":"4j","d":1,"o":9,"x":6.6,"y":-0.88},{"p":4,"c":"4j","d":1,"o":10,"x":6.78,"y":-1.93},{"p":4,"c":"4j","d":1,"o":11,"x":6.81,"y":-2.65},{"p":4,"c":"4j","d":1,"o":12,"x":6.71,"y":-3.49},{"p":4,"c":"4j","d":1,"o":13,"x":6.35,"y":-4.43},{"p":4,"c":"4j","d":1,"o":14,"x":5.93,"y":-5.15},{"p":4,"c":"4j","d":1,"o":15,"x":5.36,"y":-5.88},
{"p":4,"c":"4k","d":0,"o":0,"x":6.48,"y":-1.54},{"p":4,"c":"4k","d":0,"o":1,"x":6.81,"y":-2.13},{"p":4,"c":"4k","d":0,"o":2,"x":7.02,"y":-3.07},{"p":4,"c":"4k","d":0,"o":3,"x":6.97,"y":-3.9},{"p":4,"c":"4k","d":0,"o":4,"x":6.81,"y":-4.43},{"p":4,"c":"4k","d":0,"o":5,"x":6.6,"y":-5.0},
{"p":4,"c":"4l","d":0,"o":0,"x":7.7,"y":4.95},{"p":4,"c":"4l","d":0,"o":1,"x":7.91,"y":4.06},{"p":4,"c":"4l","d":0,"o":2,"x":8.06,"y":3.23},{"p":4,"c":"4l","d":0,"o":3,"x":8.01,"y":2.08},{"p":4,"c":"4l","d":0,"o":4,"x":7.86,"y":1.35},{"p":4,"c":"4l","d":0,"o":5,"x":7.75,"y":0.73},{"p":4,"c":"4l","d":0,"o":6,"x":7.7,"y":0.35},{"p":4,"c":"4l","d":0,"o":7,"x":7.78,"y":0},{"p":4,"c":"4l","d":0,"o":8,"x":8.01,"y":-0.88},{"p":4,"c":"4l","d":0,"o":9,"x":8.22,"y":-2.13},{"p":4,"c":"4l","d":0,"o":10,"x":8.22,"y":-3.18},{"p":4,"c":"4l","d":0,"o":11,"x":8.12,"y":-4.22},{"p":4,"c":"4l","d":0,"o":12,"x":8.01,"y":-4.95},
{"p":4,"c":"4m","d":1,"o":0,"x":7.07,"y":6},{"p":4,"c":"4m","d":1,"o":1,"x":7.49,"y":5.21},{"p":4,"c":"4m","d":1,"o":2,"x":7.8,"y":4.27},{"p":4,"c":"4m","d":1,"o":3,"x":8.01,"y":3.33},{"p":4,"c":"4m","d":1,"o":4,"x":8.12,"y":2.6},{"p":4,"c":"4m","d":1,"o":5,"x":8.27,"y":1.67},{"p":4,"c":"4m","d":1,"o":6,"x":8.32,"y":0},{"p":4,"c":"4m","d":1,"o":7,"x":8.3,"y":-1.61},{"p":4,"c":"4m","d":1,"o":8,"x":8.22,"y":-2.65},{"p":4,"c":"4m","d":1,"o":9,"x":8.06,"y":-3.7},{"p":4,"c":"4m","d":1,"o":10,"x":7.6,"y":-4.74},{"p":4,"c":"4m","d":1,"o":11,"x":7.07,"y":-6},
{"p":4,"c":"4n","d":0,"o":0,"x":9.05,"y":5.0},{"p":4,"c":"4n","d":0,"o":1,"x":9.26,"y":4.16},{"p":4,"c":"4n","d":0,"o":2,"x":9.37,"y":3.44},{"p":4,"c":"4n","d":0,"o":3,"x":9.39,"y":1.88},{"p":4,"c":"4n","d":0,"o":4,"x":9.42,"y":-0.2},{"p":4,"c":"4n","d":0,"o":5,"x":9.57,"y":-1.61},{"p":4,"c":"4n","d":0,"o":6,"x":9.63,"y":-2.65},{"p":4,"c":"4n","d":0,"o":7,"x":9.6,"y":-3.7},{"p":4,"c":"4n","d":0,"o":8,"x":9.52,"y":-4.43},{"p":4,"c":"4n","d":0,"o":9,"x":9.47,"y":-4.95},
{"p":4,"c":"4o","d":1,"o":0,"x":8.69,"y":6},{"p":4,"c":"4o","d":1,"o":1,"x":9.05,"y":5.21},{"p":4,"c":"4o","d":1,"o":2,"x":9.47,"y":4.06},{"p":4,"c":"4o","d":1,"o":3,"x":9.73,"y":2.92},{"p":4,"c":"4o","d":1,"o":4,"x":9.89,"y":1.35},{"p":4,"c":"4o","d":1,"o":5,"x":9.89,"y":-0.2},{"p":4,"c":"4o","d":1,"o":6,"x":9.89,"y":-1.61},{"p":4,"c":"4o","d":1,"o":7,"x":9.78,"y":-2.65},{"p":4,"c":"4o","d":1,"o":8,"x":9.57,"y":-3.7},{"p":4,"c":"4o","d":1,"o":9,"x":9.21,"y":-4.84},{"p":4,"c":"4o","d":1,"o":10,"x":8.69,"y":-6},
{"p":4,"c":"4p","d":0,"o":0,"x":10.62,"y":5.0},{"p":4,"c":"4p","d":0,"o":1,"x":10.72,"y":4.16},{"p":4,"c":"4p","d":0,"o":2,"x":10.88,"y":3.12},{"p":4,"c":"4p","d":0,"o":3,"x":11.03,"y":1.88},{"p":4,"c":"4p","d":0,"o":4,"x":11.14,"y":-0.2},{"p":4,"c":"4p","d":0,"o":5,"x":11.24,"y":-1.61},{"p":4,"c":"4p","d":0,"o":6,"x":11.19,"y":-3.18},{"p":4,"c":"4p","d":0,"o":7,"x":11.03,"y":-4.01},{"p":4,"c":"4p","d":0,"o":8,"x":10.82,"y":-4.95},
{"p":4,"c":"4q","d":1,"o":0,"x":10.3,"y":6},{"p":4,"c":"4q","d":1,"o":1,"x":10.82,"y":4.79},{"p":4,"c":"4q","d":1,"o":2,"x":11.14,"y":3.64},{"p":4,"c":"4q","d":1,"o":3,"x":11.35,"y":2.4},{"p":4,"c":"4q","d":1,"o":4,"x":11.45,"y":1.25},{"p":4,"c":"4q","d":1,"o":5,"x":11.45,"y":-0.2},{"p":4,"c":"4q","d":1,"o":6,"x":11.42,"y":-1.5},{"p":4,"c":"4q","d":1,"o":7,"x":11.35,"y":-2.65},{"p":4,"c":"4q","d":1,"o":8,"x":11.14,"y":-3.7},{"p":4,"c":"4q","d":1,"o":9,"x":10.72,"y":-4.95},{"p":4,"c":"4q","d":1,"o":10,"x":10.3,"y":-6}
]},
"bounds":"flush",
"spacing":{"row":111,"column":109},
"columns":2,
"concat":[
{"title":"Phase Contours","width":384,"height":384,
 "resolve":{"axis":{"x":"independent","y":"independent"}},
 "layer":[
  {"data":{"name":"lines"},"transform":[{"filter":"datum.p==1"}],
   "mark":{"type":"line"},
   "encoding":{
    "x":{"field":"x","type":"quantitative","scale":{"domain":[0,12],"nice":false,"zero":false},"axis":{"orient":"bottom","values":[0,2,4,6,8,10,12],"title":null}},
    "y":{"field":"y","type":"quantitative","scale":{"domain":[-6,6],"nice":false,"zero":false},"axis":{"orient":"left","values":[-6,-4,-2,0,2,4,6],"title":"cm"}},
    "detail":{"field":"c"},"order":{"field":"o"},
    "strokeDash":{"field":"d","type":"nominal","scale":{"domain":[0,1],"range":[[1,0],[5,3]]},"legend":null}}},
  {"data":{"name":"circle"},"mark":{"type":"point","filled":true,"color":"black","opacity":1,"size":16384},
   "encoding":{
    "x":{"field":"x","type":"quantitative","scale":{"domain":[0,12],"nice":false,"zero":false},"axis":{"orient":"top","values":[0,2,4,6,8,10,12],"labels":false,"title":null}},
    "y":{"field":"y","type":"quantitative","scale":{"domain":[-6,6],"nice":false,"zero":false},"axis":{"orient":"right","values":[-6,-4,-2,0,2,4,6],"labels":false,"title":null}}}},
  {"data":{"name":"labels"},"transform":[{"filter":"datum.p==1"}],"mark":{"type":"text","align":"left","baseline":"alphabetic","fontSize":26,"fontWeight":"bold","color":"black"},
   "encoding":{"x":{"field":"x","type":"quantitative","axis":null},"y":{"field":"y","type":"quantitative","axis":null},"text":{"field":"t"}}},
  {"data":{"name":"bars"},"mark":{"type":"rule","color":"black","strokeWidth":1.3},
   "encoding":{"x":{"field":"x","type":"quantitative","axis":null},"x2":{"field":"x2"},"y":{"field":"y","type":"quantitative","axis":null},"y2":{"field":"y2"}}},
  {"data":{"name":"heads"},"mark":{"type":"point","filled":true,"color":"black","opacity":1,"size":256},
   "encoding":{"x":{"field":"x","type":"quantitative","axis":null},"y":{"field":"y","type":"quantitative","axis":null},
    "shape":{"field":"dir","type":"nominal","scale":{"domain":["up","down"],"range":["M0,-1L-0.55,1L0.55,1Z","M0,1L-0.55,-1L0.55,-1Z"]},"legend":null}}},
  {"data":{"values":[{"x":1.25,"y":0,"t":"a"}]},"mark":{"type":"text","align":"center","baseline":"middle","fontSize":27,"fontWeight":"bold","color":"black"},
   "encoding":{"x":{"field":"x","type":"quantitative","axis":null},"y":{"field":"y","type":"quantitative","axis":null},"text":{"field":"t"}}}
 ]},
{"title":"Phase Contours","width":384,"height":384,
 "resolve":{"axis":{"x":"independent","y":"independent"}},
 "layer":[
  {"data":{"name":"lines"},"transform":[{"filter":"datum.p==2"}],
   "mark":{"type":"line"},
   "encoding":{
    "x":{"field":"x","type":"quantitative","scale":{"domain":[0,12],"nice":false,"zero":false},"axis":{"orient":"bottom","values":[0,2,4,6,8,10,12],"title":null}},
    "y":{"field":"y","type":"quantitative","scale":{"domain":[-6,6],"nice":false,"zero":false},"axis":{"orient":"left","values":[-6,-4,-2,0,2,4,6],"title":null}},
    "detail":{"field":"c"},"order":{"field":"o"},
    "strokeDash":{"field":"d","type":"nominal","scale":{"domain":[0,1],"range":[[1,0],[5,3]]},"legend":null}}},
  {"data":{"name":"circle"},"mark":{"type":"point","filled":true,"color":"black","opacity":1,"size":16384},
   "encoding":{
    "x":{"field":"x","type":"quantitative","scale":{"domain":[0,12],"nice":false,"zero":false},"axis":{"orient":"top","values":[0,2,4,6,8,10,12],"labels":false,"title":null}},
    "y":{"field":"y","type":"quantitative","scale":{"domain":[-6,6],"nice":false,"zero":false},"axis":{"orient":"right","values":[-6,-4,-2,0,2,4,6],"labels":false,"title":null}}}},
  {"data":{"name":"labels"},"transform":[{"filter":"datum.p==2"}],"mark":{"type":"text","align":"left","baseline":"alphabetic","fontSize":26,"fontWeight":"bold","color":"black"},
   "encoding":{"x":{"field":"x","type":"quantitative","axis":null},"y":{"field":"y","type":"quantitative","axis":null},"text":{"field":"t"}}}
 ]},
{"title":"Amplitude Contours","width":384,"height":384,
 "resolve":{"axis":{"x":"independent","y":"independent"}},
 "layer":[
  {"data":{"name":"lines"},"transform":[{"filter":"datum.p==3"}],
   "mark":{"type":"line"},
   "encoding":{
    "x":{"field":"x","type":"quantitative","scale":{"domain":[0,12],"nice":false,"zero":false},"axis":{"orient":"bottom","values":[0,2,4,6,8,10,12],"title":"cm"}},
    "y":{"field":"y","type":"quantitative","scale":{"domain":[-6,6],"nice":false,"zero":false},"axis":{"orient":"left","values":[-6,-4,-2,0,2,4,6],"title":"cm"}},
    "detail":{"field":"c"},"order":{"field":"o"},
    "strokeDash":{"field":"d","type":"nominal","scale":{"domain":[0,1],"range":[[1,0],[5,3]]},"legend":null}}},
  {"data":{"name":"circle"},"mark":{"type":"point","filled":true,"color":"black","opacity":1,"size":16384},
   "encoding":{
    "x":{"field":"x","type":"quantitative","scale":{"domain":[0,12],"nice":false,"zero":false},"axis":{"orient":"top","values":[0,2,4,6,8,10,12],"labels":false,"title":null}},
    "y":{"field":"y","type":"quantitative","scale":{"domain":[-6,6],"nice":false,"zero":false},"axis":{"orient":"right","values":[-6,-4,-2,0,2,4,6],"labels":false,"title":null}}}},
  {"data":{"name":"labels"},"transform":[{"filter":"datum.p==3"}],"mark":{"type":"text","align":"left","baseline":"alphabetic","fontSize":26,"fontWeight":"bold","color":"black"},
   "encoding":{"x":{"field":"x","type":"quantitative","axis":null},"y":{"field":"y","type":"quantitative","axis":null},"text":{"field":"t"}}}
 ]},
{"title":"Amplitude Contours","width":384,"height":384,
 "resolve":{"axis":{"x":"independent","y":"independent"}},
 "layer":[
  {"data":{"name":"lines"},"transform":[{"filter":"datum.p==4"}],
   "mark":{"type":"line"},
   "encoding":{
    "x":{"field":"x","type":"quantitative","scale":{"domain":[0,12],"nice":false,"zero":false},"axis":{"orient":"bottom","values":[0,2,4,6,8,10,12],"title":"cm"}},
    "y":{"field":"y","type":"quantitative","scale":{"domain":[-6,6],"nice":false,"zero":false},"axis":{"orient":"left","values":[-6,-4,-2,0,2,4,6],"title":null}},
    "detail":{"field":"c"},"order":{"field":"o"},
    "strokeDash":{"field":"d","type":"nominal","scale":{"domain":[0,1],"range":[[1,0],[5,3]]},"legend":null}}},
  {"data":{"name":"circle"},"mark":{"type":"point","filled":true,"color":"black","opacity":1,"size":16384},
   "encoding":{
    "x":{"field":"x","type":"quantitative","scale":{"domain":[0,12],"nice":false,"zero":false},"axis":{"orient":"top","values":[0,2,4,6,8,10,12],"labels":false,"title":null}},
    "y":{"field":"y","type":"quantitative","scale":{"domain":[-6,6],"nice":false,"zero":false},"axis":{"orient":"right","values":[-6,-4,-2,0,2,4,6],"labels":false,"title":null}}}},
  {"data":{"name":"labels"},"transform":[{"filter":"datum.p==4"}],"mark":{"type":"text","align":"left","baseline":"alphabetic","fontSize":26,"fontWeight":"bold","color":"black"},
   "encoding":{"x":{"field":"x","type":"quantitative","axis":null},"y":{"field":"y","type":"quantitative","axis":null},"text":{"field":"t"}}}
 ]}
]
}
